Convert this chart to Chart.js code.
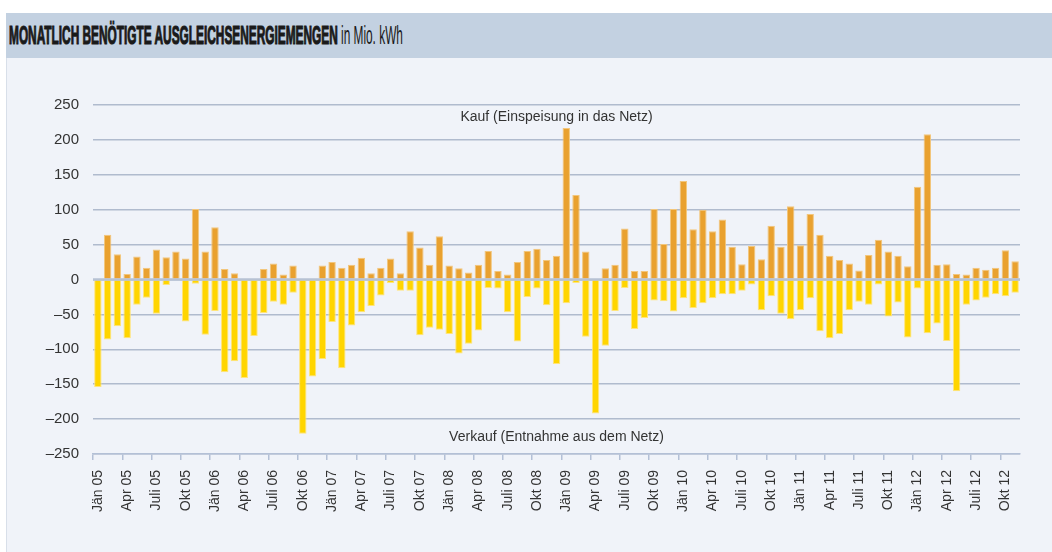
<!DOCTYPE html>
<html>
<head>
<meta charset="utf-8">
<script src="https://cdn.jsdelivr.net/npm/chart.js@4"></script>
<style>
  html, body { margin: 0; padding: 0; background: #fff; }
  body { width: 1052px; height: 552px; position: relative; overflow: hidden; }
  #banner {
    position: absolute; left: 6px; top: 13px; width: 1046px; height: 45px;
    background: #c3d1e1;
  }
  #title {
    position: absolute; left: 3px; top: 7px; white-space: nowrap;
    font-family: "Liberation Sans Narrow", "Liberation Sans", Arial, sans-serif;
    font-size: 26px; color: #1a1a1a; transform-origin: left top; display: inline-block;
  }
  #title b { font-weight: bold; -webkit-text-stroke: 1.2px #1a1a1a; }
  #panel {
    position: absolute; left: 6px; top: 58px; width: 1046px; height: 494px;
    background: #f0f3f9; border-left: 1px solid #d8dfe9; box-sizing: border-box;
  }
  #chart { position: absolute; left: 0; top: 0; }
</style>
</head>
<body>
<div id="banner"><span id="title"><b>MONATLICH BENÖTIGTE AUSGLEICHSENERGIEMENGEN</b> in Mio. kWh</span></div>
<div id="panel"></div>
<canvas id="chart" width="1052" height="552"></canvas>
<script>
  // month names as printed on the axis
  const monthNames = ["Jän", "Feb", "März", "Apr", "Mai", "Juni", "Juli", "Aug", "Sep", "Okt", "Nov", "Dez"];
  const years = ["05", "06", "07", "08", "09", "10", "11", "12"];

  // Jän 05 .. Nov 12
  const categories = [];
  years.forEach((y) => monthNames.forEach((m) => categories.push(m + " " + y)));
  categories.length = 95;

  // Kauf (Einspeisung in das Netz), Mio. kWh
  const kauf = [
    0, 64, 36, 8, 33, 17, 43, 32, 40, 30, 101, 40,
    75, 15, 9, 0, 0, 15, 23, 7, 20, 0, 0, 20,
    25, 17, 21, 31, 9, 17, 30, 9, 69, 46, 21, 62,
    20, 16, 10, 21, 41, 12, 7, 25, 41, 44, 28, 34,
    217, 121, 40, 0, 16, 21, 73, 12, 12, 101, 51, 101,
    141, 72, 100, 69, 86, 47, 22, 48, 29, 77, 47, 105,
    49, 94, 64, 34, 28, 23, 13, 35, 57, 40, 34, 19,
    133, 208, 21, 22, 8, 7, 17, 14, 17, 42, 26
  ];

  // Verkauf (Entnahme aus dem Netz), Mio. kWh
  const verkauf = [
    -154, -86, -67, -84, -36, -26, -49, -8, 0, -60, -6, -79,
    -45, -133, -117, -141, -81, -48, -32, -36, -19, -221, -139, -114,
    -61, -127, -66, -47, -38, -23, -5, -16, -16, -80, -69, -72,
    -78, -106, -92, -73, -12, -13, -47, -89, -25, -13, -37, -121,
    -34, -5, -82, -192, -95, -45, -12, -71, -55, -30, -31, -46,
    -27, -41, -34, -27, -21, -21, -16, -7, -44, -24, -49, -57,
    -44, -27, -74, -84, -78, -44, -32, -36, -7, -53, -33, -83,
    -13, -77, -63, -88, -160, -36, -30, -26, -21, -24, -19
  ];

  const yTicks = [-250, -200, -150, -100, -50, 0, 50, 100, 150, 200, 250];

  // squeeze the title to the condensed width of the original
  const title = document.getElementById("title");
  title.style.transform = "scaleX(" + (394 / title.offsetWidth) + ")";

  // zero line above the bars + the two captions
  const extras = {
    id: "extras",
    afterDatasetsDraw(chart) {
      const { ctx, chartArea, scales } = chart;
      const y0 = scales.y.getPixelForValue(0);
      ctx.save();
      ctx.strokeStyle = "#b7c2d3";
      ctx.lineWidth = 2.5;
      ctx.beginPath();
      ctx.moveTo(chartArea.left, y0);
      ctx.lineTo(chartArea.right, y0);
      ctx.stroke();

      const cx = (chartArea.left + chartArea.right) / 2;
      ctx.font = "14px 'Liberation Sans', Arial, sans-serif";
      ctx.fillStyle = "#333";
      ctx.textAlign = "center";
      ctx.textBaseline = "middle";
      ctx.fillText("Kauf (Einspeisung in das Netz)", cx, scales.y.getPixelForValue(233));
      ctx.fillText("Verkauf (Entnahme aus dem Netz)", cx, scales.y.getPixelForValue(-226));
      ctx.restore();
    },
  };

  new Chart(document.getElementById("chart"), {
    type: "bar",
    data: {
      labels: categories,
      datasets: [
        {
          label: "Kauf",
          data: kauf,
          backgroundColor: "#e9a12f",
          borderColor: "#f2c67c",
          borderWidth: 1,
          barPercentage: 0.76,
          categoryPercentage: 1,
        },
        {
          label: "Verkauf",
          data: verkauf,
          backgroundColor: "#ffd500",
          borderColor: "#ffe47a",
          borderWidth: 1,
          barPercentage: 0.76,
          categoryPercentage: 1,
        },
      ],
    },
    options: {
      responsive: false,
      animation: false,
      devicePixelRatio: 1,
      layout: { padding: { left: 0, right: 32, top: 105, bottom: 0 } },
      plugins: { legend: { display: false }, tooltip: { enabled: false } },
      scales: {
        x: {
          stacked: true,
          afterFit: (s) => { s.height = 98; },
          grid: {
            offset: true,
            drawOnChartArea: false,
            tickLength: 6,
            lineWidth: 1.5,
            color: (c) => (c.index % 3 === 0 ? "#b3c0d6" : "rgba(0,0,0,0)"),
          },
          border: { color: "#b3c0d6", width: 1.5 },
          ticks: {
            autoSkip: false,
            minRotation: 90,
            maxRotation: 90,
            padding: 10,
            color: "#333",
            font: { family: "'Liberation Sans', Arial, sans-serif", size: 14 },
            callback: (v, i) => (i % 3 === 0 ? categories[i] : ""),
          },
        },
        y: {
          stacked: true,
          min: -250,
          max: 250,
          afterFit: (s) => { s.width = 93; },
          afterBuildTicks: (s) => { s.ticks = yTicks.map((v) => ({ value: v })); },
          grid: { color: "#b0bbce", lineWidth: 1.5, drawTicks: false },
          border: { display: false },
          ticks: {
            padding: 14,
            color: "#333",
            font: { family: "'Liberation Sans', Arial, sans-serif", size: 15 },
            callback: (v) => (v < 0 ? "\u2013" + Math.abs(v) : String(v)),
          },
        },
      },
    },
    plugins: [extras],
  });
</script>
</body>
</html>
